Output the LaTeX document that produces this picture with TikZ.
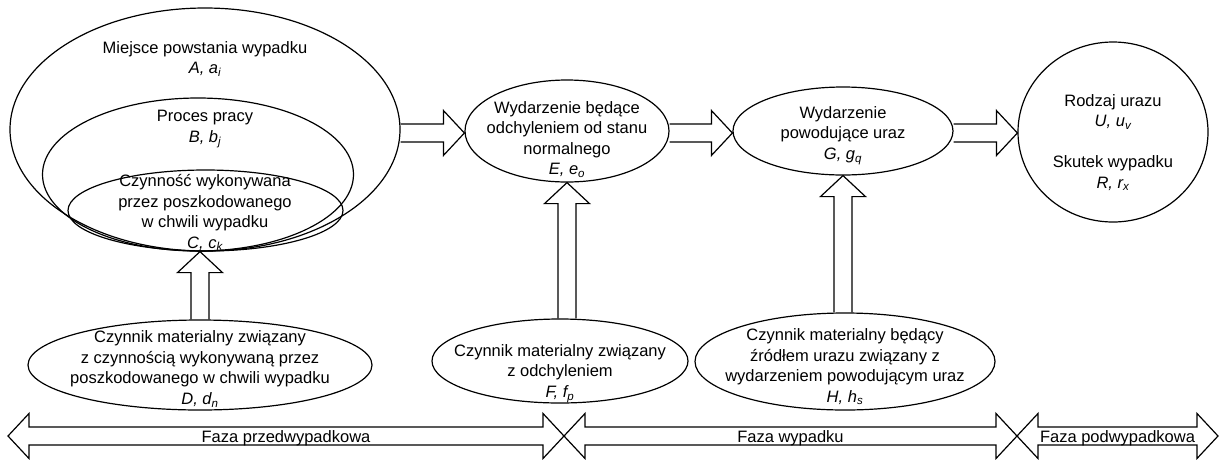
\documentclass[tikz,border=0pt]{standalone}
\usepackage{fontspec}
\setmainfont{Liberation Sans}
\usetikzlibrary{shapes.geometric,calc}
% italic symbol pair with a subscript index, e.g. "A, a_i"
\newcommand\oznacz[3]{\textit{#1, #2\textsubscript{#3}}}
\begin{document}
\begin{tikzpicture}[x=1pt,y=-1pt,
  every node/.style={font=\fontsize{16.5}{20.5}\selectfont, align=center, inner sep=0pt},
  ell/.style={draw, ellipse, line width=1.2pt, inner sep=0pt},
  blockarrow/.style={draw, line width=1.2pt, line join=miter, to path={
    let \p1=($(\tikztotarget)!21pt!(\tikztostart)$) in
    ($(\tikztostart)!9pt!90:(\tikztotarget)$) -- ($(\p1)!9pt!90:(\tikztotarget)$)
    -- ($(\p1)!22.5pt!90:(\tikztotarget)$) -- (\tikztotarget)
    -- ($(\p1)!22.5pt!-90:(\tikztotarget)$) -- ($(\p1)!9pt!-90:(\tikztotarget)$)
    -- ($(\tikztostart)!9pt!-90:(\tikztotarget)$)}},
  phasearrow/.style={draw, line width=1.2pt, line join=miter, to path={
    let \p1=(\tikztostart), \p2=(\tikztotarget) in
    (\p1) -- (\x1+21pt,\y1+22.5pt) -- (\x1+21pt,\y1+9pt) -- (\x2-21pt,\y2+9pt)
    -- (\x2-21pt,\y2+22.5pt) -- (\p2) -- (\x2-21pt,\y2-22.5pt) -- (\x2-21pt,\y2-9pt)
    -- (\x1+21pt,\y1-9pt) -- (\x1+21pt,\y1-22.5pt) -- cycle}}
]
\useasboundingbox (0,0) rectangle (1221,459);

% nested ellipses: place, process, activity
\node[ell, minimum width=390pt, minimum height=243pt] (A) at (205,129.5) {};
\node[ell, minimum width=311pt, minimum height=153pt] (B) at (198,174.5) {};
\node[ell, minimum width=275pt, minimum height=81pt]  (C) at (205.5,210.5) {};
\node (Atxt) at (205,59) {Miejsce powstania wypadku\\\oznacz{A}{a}{i}};
\node (Btxt) at (205,129) {Proces pracy\\\oznacz{B}{b}{j}};
\node (Ctxt) at (205,212.5) {Czynność wykonywana\\przez poszkodowanego\\w chwili wypadku\\\oznacz{C}{c}{k}};

% events and outcome
\node[ell, minimum width=204pt, minimum height=102pt] (E) at (567,131) {};
\node (Etxt) at (567,139.5) {Wydarzenie będące\\odchyleniem od stanu\\normalnego\\\oznacz{E}{e}{o}};
\node[ell, minimum width=220pt, minimum height=88pt] (G) at (843,131) {};
\node (Gtxt) at (843,135.5) {Wydarzenie\\powodujące uraz\\\oznacz{G}{g}{q}};
\node[ell, minimum width=190pt, minimum height=180pt] (U) at (1113,132) {};
\node (Utxt) at (1113,142.5) {Rodzaj urazu\\\oznacz{U}{u}{v}\\[20.5pt]Skutek wypadku\\\oznacz{R}{r}{x}};

% material agents
\node[ell, minimum width=344pt, minimum height=90pt] (D) at (200,365) {};
\node (Dtxt) at (200,369) {Czynnik materialny związany\\z czynnością wykonywaną przez\\poszkodowanego w chwili wypadku\\\oznacz{D}{d}{n}};
\node[ell, minimum width=256pt, minimum height=84pt] (F) at (560,361) {};
\node (Ftxt) at (560,373.5) {Czynnik materialny związany\\z odchyleniem\\\oznacz{F}{f}{p}};
\node[ell, minimum width=300pt, minimum height=97pt] (H) at (845,361.5) {};
\node (Htxt) at (845,367) {Czynnik materialny będący\\źródłem urazu związany z\\wydarzeniem powodującym uraz\\\oznacz{H}{h}{s}};

% main chain of block arrows
\coordinate (row) at (0,133);
\draw[blockarrow] (A.east |- row) to (E.west |- row);
\draw[blockarrow] (E.east |- row) to (G.west |- row);
\draw[blockarrow] (G.east |- row) to (U.west |- row);
\draw[blockarrow] (D.north) to (D.north |- C.south);
\draw[blockarrow] (E.south |- F.north) to (E.south);
\draw[blockarrow] (G.south |- H.north) to (G.south);

% phases along the bottom
\coordinate (p0) at (8,436);
\coordinate (p1) at (564,436);
\coordinate (p2) at (1017,436);
\coordinate (p3) at (1218,436);
\draw[phasearrow] (p0) to (p1);
\draw[phasearrow] (p1) to (p2);
\draw[phasearrow] (p2) to (p3);
\node (f1) at ($(p0)!.5!(p1)+(0,2)$) {Faza przedwypadkowa};
\node (f2) at ($(p1)!.5!(p2)+(0,2)$) {Faza wypadku};
\node (f3) at ($(p2)!.5!(p3)+(0,2)$) {Faza podwypadkowa};
\end{tikzpicture}
\end{document}
